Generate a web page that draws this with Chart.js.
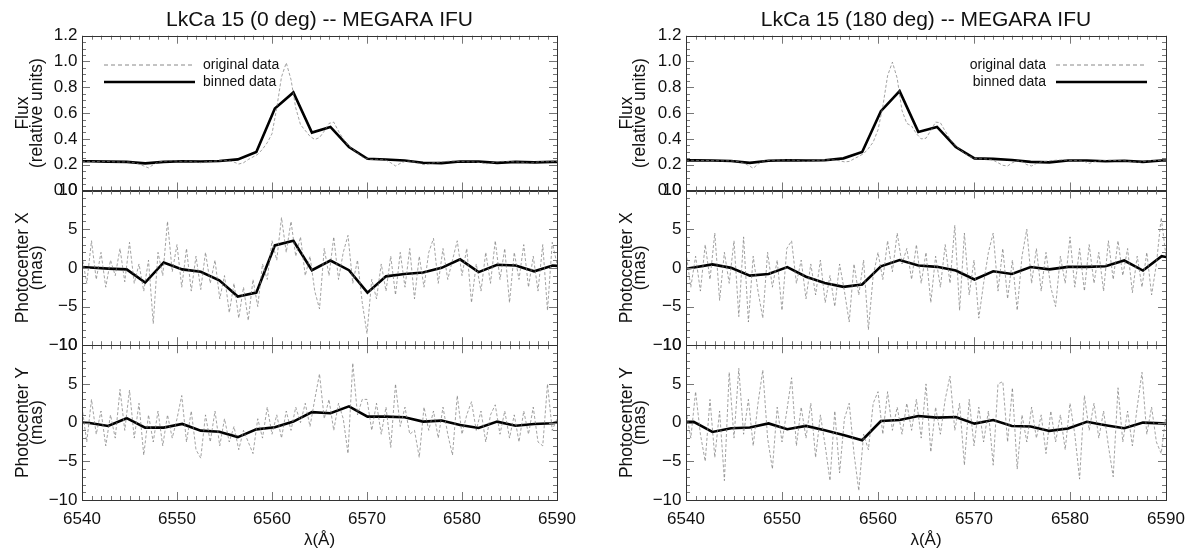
<!DOCTYPE html>
<html>
<head>
<meta charset="utf-8">
<title>LkCa 15 -- MEGARA IFU</title>
<script src="https://cdn.jsdelivr.net/npm/chart.js@4.4.1/dist/chart.umd.min.js"></script>
<style>
  html, body { margin: 0; padding: 0; background: #fff; }
  #wrap { position: relative; width: 1195px; height: 556px; }
  #boxL { position: absolute; left: 0; top: 0; }
  #boxR { position: absolute; left: 600px; top: 0; }
</style>
</head>
<body>
<div id="wrap">
  <div id="boxL"><canvas id="chartL" width="600" height="556"></canvas></div>
  <div id="boxR"><canvas id="chartR" width="595" height="556"></canvas></div>
</div>
<script>
"use strict";

/*  data  */
// wavelength grid of the original spectra (Angstrom)
var waveOrig = [
  6540, 6540.5, 6541, 6541.5, 6542, 6542.5, 6543, 6543.5, 6544, 6544.5,
  6545, 6545.5, 6546, 6546.5, 6547, 6547.5, 6548, 6548.5, 6549, 6549.5,
  6550, 6550.5, 6551, 6551.5, 6552, 6552.5, 6553, 6553.5, 6554, 6554.5,
  6555, 6555.5, 6556, 6556.5, 6557, 6557.5, 6558, 6558.5, 6559, 6559.5,
  6560, 6560.5, 6561, 6561.5, 6562, 6562.5, 6563, 6563.5, 6564, 6564.5,
  6565, 6565.5, 6566, 6566.5, 6567, 6567.5, 6568, 6568.5, 6569, 6569.5,
  6570, 6570.5, 6571, 6571.5, 6572, 6572.5, 6573, 6573.5, 6574, 6574.5,
  6575, 6575.5, 6576, 6576.5, 6577, 6577.5, 6578, 6578.5, 6579, 6579.5,
  6580, 6580.5, 6581, 6581.5, 6582, 6582.5, 6583, 6583.5, 6584, 6584.5,
  6585, 6585.5, 6586, 6586.5, 6587, 6587.5, 6588, 6588.5, 6589, 6589.5,
  6590
];
// bin centres of the binned data
var waveBin = [
  6538.85, 6540.8, 6542.75, 6544.7, 6546.65, 6548.6, 6550.55, 6552.5,
  6554.45, 6556.4, 6558.35, 6560.3, 6562.25, 6564.2, 6566.15, 6568.1,
  6570.05, 6572.0, 6573.95, 6575.9, 6577.85, 6579.8, 6581.75, 6583.7,
  6585.65, 6587.6, 6589.55, 6591.5
];

// ---- 0 deg ----
var flux0Orig = [
  0.225, 0.226, 0.225, 0.224, 0.226, 0.225, 0.223, 0.222, 0.220, 0.222,
  0.220, 0.215, 0.205, 0.190, 0.175, 0.200, 0.220, 0.226, 0.228, 0.230,
  0.228, 0.226, 0.228, 0.225, 0.220, 0.215, 0.222, 0.226, 0.228, 0.230,
  0.232, 0.230, 0.220, 0.205, 0.215, 0.240, 0.260, 0.280, 0.320, 0.370,
  0.440, 0.640, 0.880, 0.990, 0.860, 0.640, 0.510, 0.465, 0.420, 0.395,
  0.410, 0.460, 0.520, 0.530, 0.460, 0.400, 0.350, 0.320, 0.290, 0.260,
  0.245, 0.240, 0.242, 0.240, 0.235, 0.215, 0.190, 0.210, 0.225, 0.228,
  0.220, 0.210, 0.200, 0.205, 0.215, 0.218, 0.222, 0.226, 0.228, 0.226,
  0.224, 0.222, 0.222, 0.220, 0.216, 0.206, 0.212, 0.220, 0.225, 0.226,
  0.224, 0.222, 0.220, 0.218, 0.210, 0.215, 0.222, 0.224, 0.222, 0.224,
  0.225
];
var flux0Bin = [
  0.226, 0.226, 0.224, 0.222, 0.210, 0.222, 0.226, 0.225, 0.228, 0.241,
  0.298, 0.636, 0.760, 0.449, 0.493, 0.337, 0.246, 0.240, 0.232, 0.215,
  0.212, 0.225, 0.224, 0.214, 0.222, 0.218, 0.222, 0.222
];
var photX0Orig = [
  1.5, -2.0, 3.5, -1.5, 2.0, -2.5, 1.0, -1.0, 2.5, -1.8,
  3.3, -2.0, 0.5, -3.0, 1.0, -7.2, 2.0, -1.0, 6.0, -0.5,
  3.0, -2.5, 2.5, -3.0, 1.5, -2.8, 2.0, -2.0, 1.0, -4.0,
  -1.0, -5.8, -2.0, -6.5, -2.5, -6.8, -1.5, -5.0, 0.5, -1.5,
  3.5, 1.0, 6.5, 2.0, 6.0, 1.5, 4.0, -1.0, 1.5, -3.0,
  -5.3, 2.5, -1.0, 4.0, -1.5, 2.0, 4.2, -2.0, 1.0, -4.5,
  -8.5, -1.5, -4.0, 0.5, -3.0, 1.5, -3.5, 2.0, -2.5, 2.5,
  -4.0, 1.5, -2.5, 2.0, 3.8, -2.0, 2.5, -1.5, 1.0, 3.5,
  -1.0, 2.5, -4.5, 0.5, -3.0, 2.0, -2.0, 3.5, -1.5, 2.5,
  -4.5, 2.0, -1.5, 3.0, -2.5, 1.5, -3.0, 3.0, -5.5, 3.3,
  0.5
];
var photX0Bin = [
  0.2, 0.05, -0.1, -0.2, -1.9, 0.7, -0.2, -0.5, -1.6, -3.7,
  -3.2, 2.9, 3.5, -0.3, 0.95, -0.3, -3.2, -1.1, -0.8, -0.6,
  0.0, 1.1, -0.55, 0.4, 0.3, -0.45, 0.3, 0.1
];
var photY0Orig = [
  2.0, -2.5, 3.0, -1.5, 1.5, -3.0, 1.0, -2.0, 4.3, -1.0,
  4.2, -2.0, 2.5, -4.2, 1.0, -2.5, 1.5, -3.0, 1.0, -2.0,
  0.5, 3.5, -2.5, 1.5, -3.5, -4.6, 1.0, -2.5, 1.5, -3.0,
  0.5, -2.5, -0.5, -3.5, -1.0, -2.5, -4.0, 0.5, -2.0, 2.0,
  -1.5, 1.0, -2.0, 1.5, -1.0, 2.0, 0.0, 2.5, -0.5, 3.0,
  6.3, 0.5, 3.0, -1.0, 2.5, 0.5, -4.0, 7.7, 1.0, 3.0,
  3.0, -1.0, 2.5, -1.5, 2.0, -3.2, 5.0, -0.5, 2.0, -1.5,
  -1.0, -4.5, 2.0, -1.0, 1.5, -2.0, 2.0, -1.5, -4.2, 3.5,
  -1.5, 1.0, 2.7, -1.0, 1.5, -2.5, 1.0, 2.3, -1.5, 1.5,
  -2.0, 1.0, -2.5, 1.5, -1.5, 2.0, -2.5, -3.0, 5.0, -1.0,
  0.5
];
var photY0Bin = [
  0.1, -0.05, -0.43, 0.57, -0.65, -0.65, -0.17, -1.04, -1.17, -1.87,
  -0.87, -0.6, 0.13, 1.35, 1.22, 2.1, 0.78, 0.78, 0.7, 0.13,
  0.26, -0.3, -0.7, 0.13, -0.4, -0.17, -0.09, 0.4
];

// ---- 180 deg ----
var flux180Orig = [
  0.233, 0.234, 0.233, 0.232, 0.233, 0.232, 0.231, 0.230, 0.229, 0.230,
  0.228, 0.222, 0.212, 0.195, 0.172, 0.205, 0.228, 0.232, 0.234, 0.235,
  0.236, 0.235, 0.236, 0.233, 0.228, 0.225, 0.230, 0.234, 0.235, 0.236,
  0.238, 0.236, 0.230, 0.222, 0.225, 0.245, 0.265, 0.285, 0.325, 0.375,
  0.470, 0.650, 0.890, 0.995, 0.870, 0.620, 0.520, 0.500, 0.440, 0.400,
  0.405, 0.465, 0.530, 0.525, 0.460, 0.400, 0.350, 0.320, 0.290, 0.265,
  0.250, 0.246, 0.245, 0.243, 0.235, 0.215, 0.195, 0.190, 0.215, 0.230,
  0.225, 0.200, 0.190, 0.210, 0.222, 0.226, 0.230, 0.234, 0.236, 0.235,
  0.233, 0.232, 0.230, 0.225, 0.210, 0.222, 0.230, 0.233, 0.234, 0.233,
  0.232, 0.231, 0.228, 0.224, 0.218, 0.222, 0.228, 0.231, 0.232, 0.233,
  0.234
];
var flux180Bin = [
  0.233, 0.233, 0.232, 0.228, 0.214, 0.230, 0.234, 0.232, 0.234, 0.249,
  0.298, 0.615, 0.770, 0.454, 0.493, 0.337, 0.249, 0.245, 0.236, 0.222,
  0.218, 0.232, 0.232, 0.226, 0.230, 0.222, 0.232, 0.232
];
var photX180Orig = [
  2.0, -2.5, 1.5, -3.0, 3.0, -1.5, 4.5, -4.2, 2.0, -2.0,
  3.5, -6.3, 4.0, -7.0, 1.5, -3.0, -6.5, 2.0, -2.5, 1.0,
  -5.5, 2.5, 3.5, -2.0, 1.0, -4.0, 0.5, -3.5, 1.0, -4.5,
  -1.0, -5.0, 0.5, -3.0, -7.0, 0.5, -3.5, 1.0, -8.0, -1.0,
  2.0, -1.5, 3.5, -0.5, 4.5, 0.5, 2.5, -1.5, 3.0, -2.0,
  2.0, -4.5, 1.5, -2.5, 3.0, -2.0, 5.5, -5.5, 4.5, -3.5,
  1.0, -6.5, -2.0, 2.0, 4.5, -3.0, 2.5, -4.0, 1.0, -5.5,
  1.5, 5.0, -2.0, 2.5, -3.0, 2.0, -2.5, -5.0, 1.5, -2.0,
  4.0, -2.5, 2.5, -3.0, 3.0, -2.0, 2.0, -3.0, 3.5, -1.5,
  3.5, -1.0, 2.5, -3.2, 1.5, -2.5, 2.0, -3.5, 0.5, 6.5,
  1.5
];
var photX180Bin = [
  -0.35, 0.05, 0.45, 0.0, -1.0, -0.8, 0.1, -1.15, -1.95, -2.45,
  -2.15, 0.2, 1.0, 0.3, 0.13, -0.35, -1.5, -0.45, -0.8, 0.1,
  -0.2, 0.13, 0.13, 0.2, 0.95, -0.35, 1.5, 1.1
];
var photY180Orig = [
  1.5, -2.0, 4.0, -1.5, -5.0, 3.0, -4.5, 1.5, -7.5, 6.5,
  -2.0, 7.0, -1.5, 3.0, -3.0, 2.5, 6.8, -2.0, -6.0, 2.0,
  -2.5, 1.5, 5.8, -3.0, 2.0, -2.0, 2.5, -4.5, 1.0, -3.0,
  -7.5, 1.5, -6.5, 0.5, 2.5, -4.0, -8.8, -1.5, -3.5, 2.5,
  4.0, -1.5, 4.0, -1.0, 2.0, -1.5, 2.5, -1.0, 3.0, -2.0,
  5.0, -3.8, 2.0, -1.5, 3.0, 6.0, -1.0, 2.5, -5.5, 3.0,
  -3.0, 2.0, -2.5, 1.5, -5.5, 5.0, 5.3, -2.5, 4.5, -6.0,
  1.0, -2.5, 2.0, -2.0, 1.0, -4.0, 1.5, -2.5, 1.0, -3.5,
  2.5, -1.5, -7.3, 3.5, -1.0, 2.5, -2.0, 1.5, -3.0, -7.0,
  4.5, -2.5, 1.5, -3.0, 2.0, 6.5, -1.5, 2.0, -2.5, -4.0,
  1.0
];
var photY180Bin = [
  0.1, 0.1, -1.2, -0.73, -0.64, -0.1, -0.86, -0.43, -1.0, -1.6,
  -2.27, 0.2, 0.34, 0.86, 0.64, 0.73, -0.13, 0.34, -0.43, -0.5,
  -1.07, -0.77, 0.1, -0.34, -0.73, 0.0, -0.1, -0.3
];

var FONT = "'Liberation Sans', Arial, Helvetica, sans-serif";

function pts(xs, ys) {
  return xs.map(function (x, i) { return { x: x, y: ys[i] }; });
}

function origSet(ys, axis) {
  return {
    label: 'original data', data: pts(waveOrig, ys), yAxisID: axis,
    showLine: true, borderColor: '#7a7a7a', borderWidth: 0.7,
    borderDash: [3, 2], pointRadius: 0
  };
}
function binSet(ys, axis) {
  return {
    label: 'binned data', data: pts(waveBin, ys), yAxisID: axis,
    showLine: true, borderColor: '#000', borderWidth: 2.6,
    pointRadius: 0
  };
}

function signed(v) {
  return v < 0 ? '\u2212' + Math.abs(v) : String(v);
}

// inward ticks, panel frames, title and legend
var framePlugin = {
  id: 'frames',
  afterDatasetsDraw: function (chart) {
    var ctx = chart.ctx, a = chart.chartArea, xs = chart.scales.x;
    var minor = { yF: [0.05, 4], yX: [1, 5], yY: [1, 5] };
    ['yF', 'yX', 'yY'].forEach(function (id) {
      var s = chart.scales[id];
      ctx.save();
      ctx.strokeStyle = '#777';
      ctx.lineWidth = 1;
      ctx.beginPath();
      for (var k = 0; k <= 50; k++) {
        var px = Math.round(xs.getPixelForValue(6540 + k)) + 0.5;
        var len = (k % 10 === 0) ? 8 : 4;
        ctx.moveTo(px, s.top); ctx.lineTo(px, s.top + len);
        ctx.moveTo(px, s.bottom); ctx.lineTo(px, s.bottom - len);
      }
      var st = minor[id][0], every = minor[id][1];
      var n = Math.round((s.max - s.min) / st);
      for (var j = 0; j <= n; j++) {
        var py = Math.round(s.getPixelForValue(s.min + j * st)) + 0.5;
        var l2 = (j % every === 0) ? 8 : 4;
        ctx.moveTo(a.left, py); ctx.lineTo(a.left + l2, py);
        ctx.moveTo(a.right, py); ctx.lineTo(a.right - l2, py);
      }
      ctx.stroke();
      ctx.strokeStyle = '#333';
      ctx.strokeRect(Math.round(a.left) + 0.5, Math.round(s.top) + 0.5,
        Math.round(a.right - a.left), Math.round(s.bottom - s.top));
      ctx.restore();
    });
  },
  afterDraw: function (chart) {
    var ctx = chart.ctx, a = chart.chartArea, o = chart.options.plugins.frames;
    ctx.save();
    ctx.fillStyle = '#111';
    ctx.font = '21px ' + FONT;
    ctx.textAlign = 'center';
    ctx.textBaseline = 'middle';
    ctx.fillText(o.title, (a.left + a.right) / 2, 20);

    var ds = chart.data.datasets;
    var rows = [[ds[0], 65], [ds[1], 82]];
    ctx.font = '14px ' + FONT;
    rows.forEach(function (r) {
      var d = r[0], y = r[1], x0, x1, tx;
      if (o.legendSide === 'left') {
        x0 = a.left + 22; x1 = a.left + 113; tx = a.left + 121;
        ctx.textAlign = 'left';
      } else {
        x0 = a.right - 110; x1 = a.right - 19; tx = a.right - 120;
        ctx.textAlign = 'right';
      }
      ctx.strokeStyle = d.borderColor;
      ctx.lineWidth = Math.max(d.borderWidth, 0.9);
      ctx.setLineDash(d.borderDash ? [4, 3] : []);
      ctx.beginPath(); ctx.moveTo(x0, y); ctx.lineTo(x1, y); ctx.stroke();
      ctx.setLineDash([]);
      ctx.fillStyle = '#111';
      ctx.fillText(d.label, tx, y);
    });
    ctx.restore();
  }
};

function yAxis(weight, min, max, step, fmt, titleText, titlePad, axisWidth) {
  return {
    type: 'linear', position: 'left', stack: 'col', stackWeight: 1, weight: weight,
    min: min, max: max,
    grid: { display: false, drawTicks: false },
    border: { display: false },
    ticks: {
      stepSize: step, autoSkip: false, padding: 4.5, color: '#111',
      font: { family: FONT, size: 17 },
      callback: fmt
    },
    title: {
      display: true, text: titleText, color: '#111',
      font: { family: FONT, size: 17.5, lineHeight: 0.77 },
      padding: { top: titlePad, bottom: 0 }
    },
    afterFit: function (s) { s.width = axisWidth; }
  };
}

function makeChart(id, o) {
  var flux = function (v) { return v.toFixed(1); };
  return new Chart(document.getElementById(id), {
    type: 'scatter',
    data: {
      datasets: [
        origSet(o.fluxOrig, 'yF'), binSet(o.fluxBin, 'yF'),
        origSet(o.xOrig, 'yX'), binSet(o.xBin, 'yX'),
        origSet(o.yOrig, 'yY'), binSet(o.yBin, 'yY')
      ]
    },
    options: {
      responsive: false,
      animation: false,
      events: [],
      layout: { padding: { left: 0, right: o.padRight, top: 35.7, bottom: 0 } },
      elements: { line: { tension: 0 }, point: { radius: 0 } },
      plugins: {
        legend: { display: false },
        tooltip: { enabled: false },
        frames: { title: o.title, legendSide: o.legendSide }
      },
      scales: {
        x: {
          type: 'linear', position: 'bottom', min: 6540, max: 6590,
          grid: { display: false, drawTicks: false },
          border: { display: false },
          ticks: {
            stepSize: 10, autoSkip: false, maxRotation: 0, padding: 9, color: '#111',
            font: { family: FONT, size: 17 },
            callback: function (v) { return String(v); }
          },
          title: {
            display: true, text: '\u03bb(\u00c5)', color: '#111',
            font: { family: FONT, size: 17 },
            padding: { top: 0, bottom: 5.8 }
          },
          afterFit: function (s) { s.height = 56; }
        },
        yF: yAxis(3, 0, 1.2, 0.2, flux, ['Flux', '(relative units)'], o.titlePad, o.axisWidth),
        yX: yAxis(2, -10, 10, 5, signed, ['Photocenter X', '(mas)'], o.titlePad, o.axisWidth),
        yY: yAxis(1, -10, 10, 5, signed, ['Photocenter Y', '(mas)'], o.titlePad, o.axisWidth)
      }
    },
    plugins: [framePlugin]
  });
}

makeChart('chartL', {
  title: 'LkCa 15 (0 deg) -- MEGARA IFU', legendSide: 'left',
  axisWidth: 82, padRight: 43, titlePad: 16.6,
  fluxOrig: flux0Orig, fluxBin: flux0Bin,
  xOrig: photX0Orig, xBin: photX0Bin,
  yOrig: photY0Orig, yBin: photY0Bin
});

makeChart('chartR', {
  title: 'LkCa 15 (180 deg) -- MEGARA IFU', legendSide: 'right',
  axisWidth: 86, padRight: 29, titlePad: 20,
  fluxOrig: flux180Orig, fluxBin: flux180Bin,
  xOrig: photX180Orig, xBin: photX180Bin,
  yOrig: photY180Orig, yBin: photY180Bin
});
</script>
</body>
</html>
